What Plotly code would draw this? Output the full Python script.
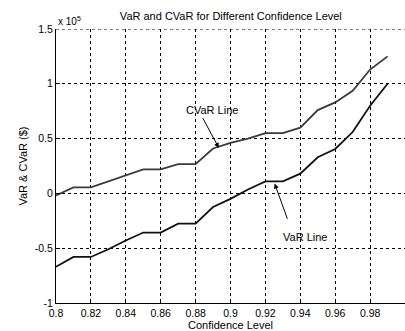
import plotly.graph_objects as go

conf = [0.80, 0.81, 0.82, 0.83, 0.84, 0.85, 0.86, 0.87, 0.88, 0.89,
        0.90, 0.91, 0.92, 0.93, 0.94, 0.95, 0.96, 0.97, 0.98, 0.99]
cvar = [-1800, 5500, 5500, 11000, 16000, 22000, 22000, 26700, 26700, 41000,
        46000, 50000, 55000, 55000, 60000, 76000, 83000, 93600, 113000, 125000]
var = [-67000, -58000, -58000, -51000, -43000, -35700, -35700, -27600, -27600, -12400,
       -5000, 3600, 11000, 11000, 18000, 33000, 40500, 56000, 80000, 100000]

xticks = [0.80, 0.82, 0.84, 0.86, 0.88, 0.90, 0.92, 0.94, 0.96, 0.98, 1.00]
xticklabels = ["0.8", "0.82", "0.84", "0.86", "0.88", "0.9", "0.92", "0.94", "0.96", "0.98", "1"]
yticks = [-100000, -50000, 0, 50000, 100000, 150000]
yticklabels = ["-1", "-0.5", "0", "0.5", "1", "1.5"]

font = "Liberation Sans, Arial, sans-serif"

fig = go.Figure()
fig.add_trace(go.Scatter(x=conf, y=cvar, mode="lines", line=dict(color="#3a3a3a", width=1.8),
                         showlegend=False))
fig.add_trace(go.Scatter(x=conf, y=var, mode="lines", line=dict(color="#111111", width=1.8),
                         showlegend=False))

fig.add_annotation(x=0.8933, y=41500, ax=0.8837, ay=70000, axref="x", ayref="y",
                   text="", showarrow=True, arrowhead=2, arrowsize=1, arrowwidth=1,
                   arrowcolor="black")
fig.add_annotation(x=0.8895, y=76000, text="CVaR Line", showarrow=False,
                   font=dict(family=font, size=11, color="black"))
fig.add_annotation(x=0.9253, y=9000, ax=0.9329, ay=-24500, axref="x", ayref="y",
                   text="", showarrow=True, arrowhead=2, arrowsize=1, arrowwidth=1,
                   arrowcolor="black")
fig.add_annotation(x=0.9425, y=-39500, text="VaR Line", showarrow=False,
                   font=dict(family=font, size=11, color="black"))

fig.add_annotation(xref="paper", yref="paper", x=0.0, y=1.0, xanchor="left", yanchor="bottom",
                   text="x 10<sup>5</sup>", showarrow=False,
                   font=dict(family=font, size=10, color="black"))

fig.add_shape(type="line", xref="paper", yref="y", x0=0, x1=1, y0=150000, y1=150000,
              line=dict(color="black", width=1, dash="dot"))

fig.update_layout(
    width=405, height=331,
    margin=dict(l=56, r=0, t=29, b=28),
    paper_bgcolor="white", plot_bgcolor="white",
    font=dict(family=font, size=11, color="black"),
    title=dict(text="VaR and CVaR for Different Confidence Level", x=0.57, xanchor="center",
               y=0.952, yanchor="middle", font=dict(family=font, size=11, color="black")),
)
fig.update_xaxes(range=[0.8, 1.0], tickvals=xticks, ticktext=xticklabels,
                 tickfont=dict(size=10.5),
                 showgrid=True, gridcolor="black", griddash="dot", gridwidth=1,
                 showline=True, linecolor="black", linewidth=1.2,
                 ticks="inside", ticklen=4, tickcolor="black", zeroline=False,
                 title=dict(text="Confidence Level", standoff=2, font=dict(size=11)))
fig.update_yaxes(range=[-100000, 150000], tickvals=yticks, ticktext=yticklabels,
                 tickfont=dict(size=10.5),
                 showgrid=True, gridcolor="black", griddash="dot", gridwidth=1,
                 showline=True, linecolor="black", linewidth=1.2,
                 ticks="inside", ticklen=4, tickcolor="black", zeroline=False,
                 title=dict(text="VaR & CVaR ($)", standoff=4, font=dict(size=11)))

fig.write_html("out.html")
